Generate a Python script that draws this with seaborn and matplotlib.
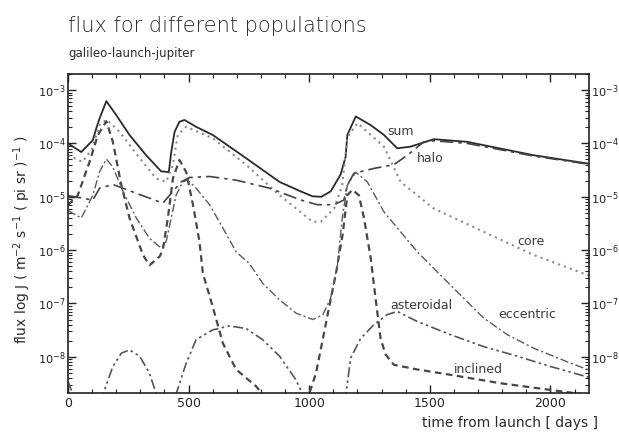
import matplotlib
matplotlib.use("Agg")
import matplotlib.pyplot as plt
import pandas as pd
import seaborn as sns
from matplotlib.ticker import MultipleLocator, FixedLocator, NullFormatter

sns.set_style("ticks")
plt.rcParams["font.family"] = ["DejaVu Sans"]

# ---------------- data ----------------
sum_days = [0, 55, 103, 117, 131, 159, 200, 255, 324, 386, 418, 428, 442, 462, 483,
            531, 600, 738, 877, 965, 1014, 1050, 1089, 1130, 1151, 1158, 1193, 1255,
            1310, 1365, 1420, 1517, 1655, 1931, 2170]
sum_vals = [1.0e-4, 6.9e-5, 1.15e-4, 1.9e-4, 2.95e-4, 6.2e-4, 3.4e-4, 1.44e-4, 6.0e-5,
            3.0e-5, 2.9e-5, 6.9e-5, 1.65e-4, 2.55e-4, 2.75e-4, 2.05e-4, 1.44e-4, 5.3e-5,
            1.9e-5, 1.26e-5, 1.02e-5, 1.0e-5, 1.26e-5, 2.6e-5, 5.6e-5, 1.44e-4, 3.2e-4,
            2.2e-4, 1.44e-4, 8.1e-5, 8.7e-5, 1.2e-4, 1.07e-4, 6.0e-5, 4.1e-5]

core_days = [0, 60, 100, 130, 160, 214, 297, 366, 407, 435, 455, 490, 600, 738, 877,
             1014, 1048, 1103, 1137, 1158, 1200, 1310, 1379, 1517, 1724, 1931, 2170]
core_vals = [6.0e-5, 4.5e-5, 8.0e-5, 2.2e-4, 2.8e-4, 1.65e-4, 5.3e-5, 2.2e-5, 1.9e-5,
             4.0e-5, 1.44e-4, 2.05e-4, 1.25e-4, 4.0e-5, 1.07e-5, 3.4e-6, 3.4e-6, 6.0e-6,
             1.65e-5, 1.3e-4, 2.4e-4, 8.7e-5, 1.9e-5, 6.0e-6, 2.2e-6, 8.1e-7, 3.2e-7]

halo_days = [0, 103, 131, 186, 393, 435, 469, 504, 587, 697, 835, 965, 1034, 1103, 1144,
             1158, 1185, 1268, 1351, 1407, 1475, 1517, 1655, 1931, 2170]
halo_vals = [1.05e-5, 8.7e-6, 1.45e-5, 1.7e-5, 7.6e-6, 1.26e-5, 1.9e-5, 2.3e-5, 2.4e-5,
             2.05e-5, 1.45e-5, 8.7e-6, 7.1e-6, 7.1e-6, 8.7e-6, 1.65e-5, 2.75e-5, 3.4e-5,
             4.0e-5, 6.0e-5, 1.07e-4, 1.12e-4, 1.0e-4, 5.8e-5, 4.0e-5]

incl_days = [0, 40, 90, 124, 159, 186, 221, 255, 311, 338, 380, 393, 414, 435, 462, 490,
             518, 545, 559, 600, 642, 697, 780, 830, 975, 1001, 1028, 1056, 1083, 1111,
             1139, 1158, 1179, 1206, 1227, 1255, 1275, 1296, 1317, 1351, 1448, 1586,
             1793, 2000, 2170]
incl_vals = [7.0e-6, 1.05e-5, 4.6e-5, 1.44e-4, 2.6e-4, 1.07e-4, 1.65e-5, 4.0e-6, 8.1e-7,
             5.2e-7, 7.6e-7, 1.0e-6, 4.0e-6, 2.2e-5, 4.9e-5, 2.9e-5, 7.1e-6, 1.45e-6,
             3.7e-7, 8.7e-8, 1.8e-8, 5.8e-9, 2.8e-9, 1.5e-9, 1.5e-9, 2.1e-9, 4.9e-9,
             2.1e-8, 8.7e-8, 3.7e-7, 2.0e-6, 1.07e-5, 1.35e-5, 1.07e-5, 4.0e-6, 7.1e-7,
             1.26e-7, 2.2e-8, 1.1e-8, 7.1e-9, 5.8e-9, 4.6e-9, 3.2e-9, 2.4e-9, 1.9e-9]

ecc_days = [0, 55, 103, 131, 159, 186, 228, 283, 338, 386, 407, 428, 448, 476, 497, 531,
            587, 642, 697, 752, 807, 877, 945, 1015, 1056, 1089, 1117, 1137, 1158, 1193,
            1241, 1310, 1379, 1448, 1586, 1724, 1821, 1931, 2069, 2170]
ecc_vals = [5.5e-6, 4.0e-6, 1.07e-5, 2.95e-5, 5.1e-5, 3.6e-5, 1.26e-5, 4.0e-6, 1.66e-6,
            1.1e-6, 1.45e-6, 4.0e-6, 1.07e-5, 1.9e-5, 2.05e-5, 1.45e-5, 7.1e-6, 2.6e-6,
            9.3e-7, 5.6e-7, 2.4e-7, 1.17e-7, 6.6e-8, 5.0e-8, 6.1e-8, 1.26e-7, 5.2e-7,
            4.0e-6, 1.65e-5, 2.9e-5, 1.9e-5, 5.2e-6, 2.2e-6, 9.3e-7, 2.2e-7, 5.3e-8,
            2.6e-8, 1.45e-8, 8.1e-9, 5.4e-9]

ast_days = [0, 30, 130, 145, 186, 221, 255, 297, 338, 366, 385, 430, 448, 490, 531, 600,
            669, 738, 807, 877, 945, 973, 990, 1135, 1152, 1172, 1213, 1268, 1324, 1365,
            1448, 1586, 1724, 1862, 2000, 2170]
ast_vals = [3.5e-9, 1.5e-9, 1.2e-9, 2.0e-9, 6.6e-9, 1.17e-8, 1.35e-8, 1.03e-8, 4.9e-9,
            2.0e-9, 1.2e-9, 1.2e-9, 2.0e-9, 7.6e-9, 2.1e-8, 3.2e-8, 3.8e-8, 3.4e-8,
            2.1e-8, 1.03e-8, 3.7e-9, 2.0e-9, 1.3e-9, 1.3e-9, 2.0e-9, 9.5e-9, 2.2e-8,
            4.0e-8, 6.2e-8, 7.1e-8, 4.6e-8, 2.6e-8, 1.55e-8, 1.03e-8, 6.6e-9, 4.0e-9]

labels = ["sum", "halo", "core", "asteroidal", "eccentric", "inclined"]
label_days = [1379, 1500, 1917, 1464, 1905, 1702]
label_vals = [1.65e-4, 5.2e-5, 1.45e-6, 9.3e-8, 6.2e-8, 5.8e-9]

x_ticks = [0, 500, 1000, 1500, 2000]
y_ticks = [1e-8, 1e-7, 1e-6, 1e-5, 1e-4, 1e-3]
y_tick_labels = [r"$10^{-8}$", r"$10^{-7}$", r"$10^{-6}$", r"$10^{-5}$",
                 r"$10^{-4}$", r"$10^{-3}$"]

# ---------------- build long table ----------------
series = [("sum", sum_days, sum_vals), ("core", core_days, core_vals),
          ("halo", halo_days, halo_vals), ("inclined", incl_days, incl_vals),
          ("eccentric", ecc_days, ecc_vals), ("asteroidal", ast_days, ast_vals)]
df = pd.concat([pd.DataFrame({"day": d, "flux": v, "population": n}) for n, d, v in series],
               ignore_index=True)

palette = {"sum": "#2a2a2a", "core": "#8a8a8a", "halo": "#444444",
           "inclined": "#474747", "eccentric": "#5a5a5a", "asteroidal": "#555555"}
dashes = {"sum": "", "core": (1, 2), "halo": (8, 3, 2, 3),
          "inclined": (3, 2), "eccentric": (6, 2, 1.5, 2),
          "asteroidal": (6, 2, 1.5, 2, 1.5, 2)}
sizes = {"sum": 1.3, "core": 1.5, "halo": 1.2, "inclined": 1.6,
         "eccentric": 1.0, "asteroidal": 1.2}

fig = plt.figure(figsize=(6.19, 4.34), dpi=100)
ax = fig.add_axes([68 / 619, 41 / 434, 521 / 619, 319 / 434])

sns.lineplot(data=df, x="day", y="flux", hue="population", style="population",
             size="population", palette=palette, dashes=dashes, sizes=sizes,
             estimator=None, sort=False, legend=False, ax=ax)

ax.set_yscale("log")
ax.set_xlim(0, 2160)
ax.set_ylim(2.1e-9, 2.0e-3)
ax.set_xlabel("")
ax.set_ylabel("")

ax.xaxis.set_major_locator(FixedLocator(x_ticks))
ax.set_xticklabels([str(t) for t in x_ticks])
ax.xaxis.set_minor_locator(FixedLocator([d for d in range(100, 2160, 100) if d % 500]))
ax.yaxis.set_major_locator(FixedLocator(y_ticks))
ax.set_yticklabels(y_tick_labels)
minor_y = [m * 10.0 ** e for e in range(-9, -2) for m in range(2, 10)
           if 2.1e-9 <= m * 10.0 ** e <= 2.0e-3]
ax.yaxis.set_minor_locator(FixedLocator(minor_y))
ax.yaxis.set_minor_formatter(NullFormatter())

ax.tick_params(which="both", direction="in", top=True, right=True,
               labelright=True, colors="#222222")
ax.tick_params(axis="x", labelsize=9, pad=3)
ax.tick_params(axis="y", labelsize=8.2, pad=1.5)
ax.tick_params(which="major", length=6, width=1.0)
ax.tick_params(which="minor", length=3, width=0.8)
for s in ax.spines.values():
    s.set_linewidth(1.2)
    s.set_color("#222222")

for t, d, v in zip(labels, label_days, label_vals):
    ax.text(d, v, t, fontsize=9, color="#3a3a3a", ha="center", va="center")

fig.text(68 / 619, 1 - 26 / 434, "flux for different populations", fontsize=15,
         fontweight="light", color="#2a2a2a", va="center", ha="left")
fig.text(68 / 619, 1 - 53 / 434, "galileo-launch-jupiter", fontsize=8.5,
         color="#2a2a2a", va="center", ha="left")
fig.text(22 / 619, 1 - 240 / 434,
         r"flux log J ( m$^{-2}$ s$^{-1}$ ( pi sr )$^{-1}$ )",
         rotation=90, fontsize=10, color="#2a2a2a", va="center", ha="center")
fig.text(598 / 619, 1 - 423 / 434, "time from launch [ days ]", fontsize=10,
         color="#2a2a2a", va="center", ha="right")

fig.savefig("out.png", dpi=100)
